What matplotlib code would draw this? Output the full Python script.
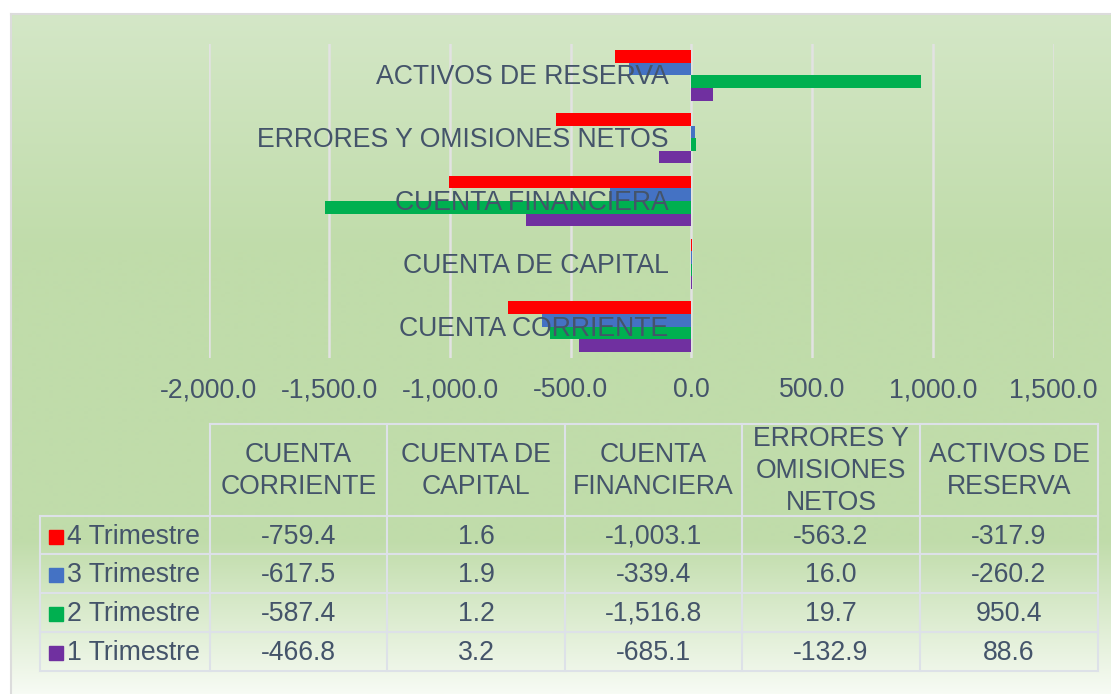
import textwrap
import numpy as np
import matplotlib
matplotlib.use("Agg")
import matplotlib.pyplot as plt
from matplotlib.colors import to_rgb

plt.rcParams['font.family'] = ['Liberation Sans', 'DejaVu Sans']

# ---------------- data ----------------
categories = ["CUENTA CORRIENTE", "CUENTA DE CAPITAL", "CUENTA FINANCIERA",
              "ERRORES Y OMISIONES NETOS", "ACTIVOS DE RESERVA"]
series_names = ["4 Trimestre", "3 Trimestre", "2 Trimestre", "1 Trimestre"]
q4 = [-759.4, 1.6, -1003.1, -563.2, -317.9]
q3 = [-617.5, 1.9, -339.4, 16.0, -260.2]
q2 = [-587.4, 1.2, -1516.8, 19.7, 950.4]
q1 = [-466.8, 3.2, -685.1, -132.9, 88.6]
series_values = [q4, q3, q2, q1]
series_colors = ["#FF0000", "#4472C4", "#00B050", "#7030A0"]
x_ticks = [-2000, -1500, -1000, -500, 0, 500, 1000, 1500]

TXT = "#44546A"
GRID = "#E2E2E2"
FS = 19.2

W, H = 1111, 694
fig = plt.figure(figsize=(W / 100, H / 100), dpi=100)
fig.patch.set_facecolor("white")

# ---------------- background (pixel coordinates) ----------------
bg = fig.add_axes([0, 0, 1, 1], zorder=-10)
bg.set_xlim(0, W)
bg.set_ylim(H, 0)
bg.axis("off")
stops = [(14, "#d4e7c7"), (250, "#c0dcaa"), (540, "#c0dcaa"), (694, "#f7fbf4")]
ys = np.arange(14, H + 1)
grad = np.zeros((len(ys), 1, 3))
for c in range(3):
    grad[:, 0, c] = np.interp(ys, [s[0] for s in stops], [to_rgb(s[1])[c] for s in stops])
bg.imshow(grad, extent=(11, W, H, 14), aspect="auto", interpolation="bilinear", zorder=0)
bg.plot([11, 11], [H, 14], color="#DCDCDC", lw=1.5, zorder=1)
bg.plot([11, W], [14, 14], color="#DCDCDC", lw=1.5, zorder=1)

# ---------------- bar chart ----------------
x0, x1 = 208.8, 1053.5
y0, y1 = 44, 358
ax = fig.add_axes([x0 / W, 1 - y1 / H, (x1 - x0) / W, (y1 - y0) / H])
ax.set_facecolor("none")
ax.set_xlim(-2000, 1500)
ax.set_ylim(-0.5, len(categories) - 0.5)
bar_h = 0.2
offsets = [0.3, 0.1, -0.1, -0.3]
idx = np.arange(len(categories))
for vals, col, off in zip(series_values, series_colors, offsets):
    ax.barh(idx + off, vals, height=bar_h, color=col, zorder=3)
ax.set_xticks(x_ticks)
ax.set_xticklabels([f"{v:,.1f}" for v in x_ticks], fontsize=FS, color=TXT)
ax.tick_params(axis="x", length=0, pad=14)
ax.set_yticks([])
ax.set_axisbelow(True)
ax.grid(axis="x", color=GRID, lw=1.8)
for s in ax.spines.values():
    s.set_visible(False)
for i, cat in enumerate(categories):
    ax.annotate(cat, xy=(0, i), xytext=(-23, -2), textcoords="offset pixels",
                ha="right", va="center", fontsize=FS, color=TXT, zorder=6)

# ---------------- data table (pixel coordinates) ----------------
col_edges = [40, 210, 387, 565, 742, 920, 1098]
row_edges = [424, 516, 554, 593, 632, 671]
LC = "#DDE1E8"
lw = 1.5
bg.plot([col_edges[1], col_edges[-1]], [row_edges[0], row_edges[0]], color=LC, lw=lw, zorder=2)
for y in row_edges[1:]:
    bg.plot([col_edges[0], col_edges[-1]], [y, y], color=LC, lw=lw, zorder=2)
bg.plot([col_edges[0], col_edges[0]], [row_edges[1], row_edges[-1]], color=LC, lw=lw, zorder=2)
for x in col_edges[1:]:
    bg.plot([x, x], [row_edges[0], row_edges[-1]], color=LC, lw=lw, zorder=2)

for j, cat in enumerate(categories):
    cx = (col_edges[j + 1] + col_edges[j + 2]) / 2
    cy = (row_edges[0] + row_edges[1]) / 2 + 1
    bg.text(cx, cy, "\n".join(textwrap.wrap(cat, 10)), ha="center", va="center",
            fontsize=FS, color=TXT, linespacing=1.32, zorder=3)

for r, (name, vals, col) in enumerate(zip(series_names, series_values, series_colors)):
    cy = (row_edges[r + 1] + row_edges[r + 2]) / 2 + 1.5
    bg.add_patch(plt.Rectangle((49, cy - 7), 14, 14, color=col, zorder=3))
    bg.text(67, cy, name, ha="left", va="center", fontsize=FS, color=TXT, zorder=3)
    for j, v in enumerate(vals):
        cx = (col_edges[j + 1] + col_edges[j + 2]) / 2
        bg.text(cx, cy, f"{v:,.1f}", ha="center", va="center", fontsize=FS, color=TXT, zorder=3)

fig.savefig("out.png", dpi=100)
